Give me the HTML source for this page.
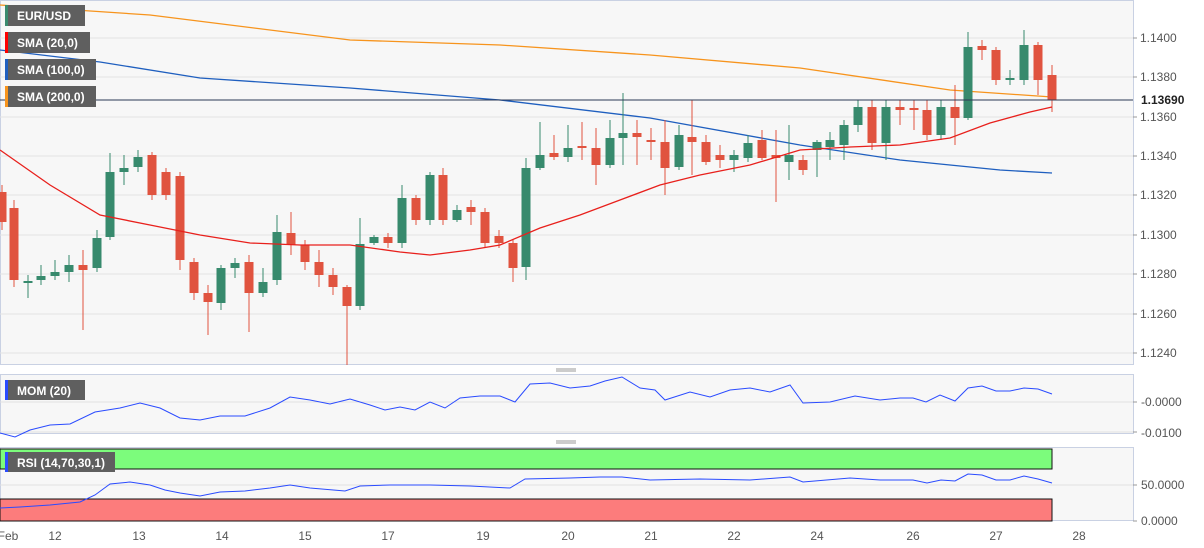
<!DOCTYPE html>
<html><head><meta charset="utf-8"><style>
body{margin:0;background:#fff;}
svg{display:block;font-family:"Liberation Sans",sans-serif;}
</style></head><body>
<svg width="1204" height="548" viewBox="0 0 1204 548" xmlns="http://www.w3.org/2000/svg">
<rect x="0" y="0" width="1204" height="548" fill="#fff"/>
<!-- main panel -->
<rect x="0.5" y="0.5" width="1133" height="364" fill="#f7f7f7" stroke="#c9d1e3"/>
<g stroke="#e3e3e3" stroke-width="1">
<line x1="0" x2="1133" y1="38" y2="38"/><line x1="0" x2="1133" y1="77" y2="77"/><line x1="0" x2="1133" y1="117" y2="117"/><line x1="0" x2="1133" y1="156" y2="156"/><line x1="0" x2="1133" y1="195" y2="195"/><line x1="0" x2="1133" y1="235" y2="235"/><line x1="0" x2="1133" y1="274" y2="274"/><line x1="0" x2="1133" y1="314" y2="314"/><line x1="0" x2="1133" y1="353" y2="353"/>
</g>
<g font-size="12" fill="#555">
<text x="1140" y="42">1.1400</text><text x="1140" y="81">1.1380</text><text x="1140" y="121">1.1360</text><text x="1140" y="160">1.1340</text><text x="1140" y="199">1.1320</text><text x="1140" y="239">1.1300</text><text x="1140" y="278">1.1280</text><text x="1140" y="318">1.1260</text><text x="1140" y="357">1.1240</text>
</g>
<g stroke="#999"><line x1="1133" x2="1137" y1="38" y2="38"/><line x1="1133" x2="1137" y1="77" y2="77"/><line x1="1133" x2="1137" y1="117" y2="117"/><line x1="1133" x2="1137" y1="156" y2="156"/><line x1="1133" x2="1137" y1="195" y2="195"/><line x1="1133" x2="1137" y1="235" y2="235"/><line x1="1133" x2="1137" y1="274" y2="274"/><line x1="1133" x2="1137" y1="314" y2="314"/><line x1="1133" x2="1137" y1="353" y2="353"/></g>
<!-- SMA lines -->
<polyline fill="none" stroke="#f7941d" stroke-width="1.3" points="0,5 150,15 350,40 500,45 650,55 800,68 950,90 1052,97"/>
<polyline fill="none" stroke="#1f5fbf" stroke-width="1.3" points="0,50 100,62 200,78 350,88 500,100 650,118 800,145 900,160 1000,170 1052,173"/>
<g id="candles"></g>
<polyline fill="none" stroke="#e8201c" stroke-width="1.3" points="0,150 50,185 100,215 150,225 200,235 250,243 300,245 350,245 400,252 430,255 470,250 500,245 540,228 580,215 620,200 660,185 700,175 750,165 800,150 850,147 900,145 950,138 990,123 1030,112 1052,107"/>
<line x1="0" x2="1133" y1="100" y2="100" stroke="#2b3a55" stroke-width="1"/>
<rect x="1136" y="92" width="60" height="16" fill="#fff"/>
<text x="1141" y="104" font-size="12" fill="#222" font-weight="bold">1.13690</text>
<!-- legend -->
<g font-size="12" fill="#fff" font-weight="bold">
<rect x="5" y="5" width="80" height="21" fill="#5f5f5f"/><rect x="5" y="5" width="3" height="21" fill="#3a8a6e"/><text x="17" y="20">EUR/USD</text>
<rect x="5" y="32" width="85" height="21" fill="#5f5f5f"/><rect x="5" y="32" width="3" height="21" fill="#f00"/><text x="17" y="47">SMA (20,0)</text>
<rect x="5" y="59" width="91" height="21" fill="#5f5f5f"/><rect x="5" y="59" width="3" height="21" fill="#1f5fbf"/><text x="17" y="74">SMA (100,0)</text>
<rect x="5" y="86" width="91" height="21" fill="#5f5f5f"/><rect x="5" y="86" width="3" height="21" fill="#f7941d"/><text x="17" y="101">SMA (200,0)</text>
</g>
<!-- separators -->
<g stroke="#999"><line x1="556" x2="576" y1="369" y2="369"/><line x1="556" x2="576" y1="371" y2="371"/><line x1="556" x2="576" y1="441" y2="441"/><line x1="556" x2="576" y1="443" y2="443"/></g>
<!-- MOM panel -->
<rect x="0.5" y="374.5" width="1133" height="59" fill="#f7f7f7" stroke="#c9d1e3"/>
<line x1="0" x2="1133" y1="402" y2="402" stroke="#e0e0e0"/>
<line x1="0" x2="1133" y1="432" y2="432" stroke="#e0e0e0"/>
<polyline fill="none" stroke="#2a4bff" stroke-width="1" points="0,433 15,437 30,430 50,425 70,424 95,412 120,408 140,403 160,408 180,418 200,420 220,416 245,416 270,408 290,397 310,400 330,404 350,399 370,405 385,410 400,407 415,410 430,402 445,408 460,398 480,396 500,396 515,402 530,384 550,383 570,388 590,386 605,381 622,377 640,388 655,390 665,400 690,392 710,397 730,390 750,388 770,392 790,385 803,403 830,402 855,396 880,400 900,398 913,398 926,402 940,395 955,401 968,388 982,386 996,391 1010,391 1024,388 1038,389 1052,394"/>
<rect x="5" y="380" width="80" height="20" fill="#5f5f5f"/><rect x="5" y="380" width="3" height="20" fill="#2a4bff"/>
<text x="17" y="395" font-size="12" fill="#fff" font-weight="bold">MOM (20)</text>
<g font-size="12" fill="#555"><text x="1141" y="406">-0.0000</text><text x="1141" y="437">-0.0100</text></g>
<g stroke="#999"><line x1="1133" x2="1137" y1="402" y2="402"/><line x1="1133" x2="1137" y1="432" y2="432"/></g>
<!-- RSI panel -->
<rect x="0.5" y="447.5" width="1133" height="73" fill="#f7f7f7" stroke="#c9d1e3"/>
<rect x="0" y="449" width="1052" height="20" fill="#7cfc7c" stroke="#111" stroke-width="1"/>
<rect x="0" y="499" width="1052" height="22" fill="#fc7c7c" stroke="#111" stroke-width="1"/>
<line x1="0" x2="1133" y1="485" y2="485" stroke="#e0e0e0"/>
<polyline fill="none" stroke="#2a4bff" stroke-width="1" points="0,508 20,507 50,505 80,502 95,495 110,484 130,482 150,485 165,490 180,493 200,496 220,492 245,491 270,488 290,485 310,488 345,491 360,486 390,485 430,485 470,486 510,488 525,479 570,478 600,477 622,477 650,480 700,479 750,480 790,477 803,482 850,478 880,480 913,480 927,483 941,480 955,481 968,474 982,475 996,480 1010,480 1024,476 1038,479 1052,483"/>
<rect x="5" y="452" width="110" height="20" fill="#5f5f5f"/><rect x="5" y="452" width="3" height="20" fill="#2a4bff"/>
<text x="17" y="467" font-size="12" fill="#fff" font-weight="bold">RSI (14,70,30,1)</text>
<g font-size="12" fill="#555"><text x="1141" y="489">50.0000</text><text x="1141" y="525">0.0000</text></g>
<g stroke="#999"><line x1="1133" x2="1137" y1="485" y2="485"/><line x1="1133" x2="1137" y1="521" y2="521"/></g>
<!-- x axis -->
<g font-size="12" fill="#555" text-anchor="middle">
<text x="8" y="540">Feb</text><text x="55" y="540">12</text><text x="139" y="540">13</text><text x="222" y="540">14</text><text x="305" y="540">15</text><text x="388" y="540">17</text><text x="483" y="540">19</text><text x="568" y="540">20</text><text x="651" y="540">21</text><text x="734" y="540">22</text><text x="817" y="540">24</text><text x="913" y="540">26</text><text x="996" y="540">27</text><text x="1079" y="540">28</text>
</g>
</svg>
<script>
var c=[[2,192,222,185,230],[14,208,280,200,287],[28,283,281,275,298],[41,280,276,265,285],[55,276,272,260,280],[69,272,265,255,282],[83,265,270,250,330],[97,268,238,230,272],[110,237,172,153,240],[124,172,168,155,185],[138,167,157,150,172],[152,155,195,152,200],[166,172,195,168,200],[180,176,260,172,270],[194,262,293,258,300],[208,293,302,285,335],[221,303,268,265,310],[235,268,263,258,278],[249,262,293,255,332],[263,293,282,268,297],[277,280,232,215,285],[291,233,245,212,255],[305,245,262,240,270],[319,262,275,250,287],[333,275,287,268,295],[347,287,306,285,365],[360,306,244,218,310],[374,243,237,235,245],[388,237,243,233,248],[402,243,198,185,248],[416,198,220,195,225],[430,220,175,172,225],[443,175,220,168,225],[457,220,210,205,222],[471,207,212,200,225],[485,212,243,208,248],[499,236,243,230,248],[513,243,268,240,282],[526,267,168,158,280],[540,168,155,122,170],[554,153,157,135,160],[568,157,148,125,162],[582,146,148,122,160],[596,148,165,128,185],[610,165,138,120,168],[623,138,133,93,165],[637,133,137,120,165],[651,140,142,128,160],[665,142,168,120,195],[679,167,135,125,170],[692,137,142,100,175],[706,142,162,135,165],[720,155,160,145,168],[734,160,155,150,172],[748,158,143,135,162],[762,140,158,130,160],[776,155,158,130,202],[789,162,155,125,180],[803,160,170,155,175],[817,150,142,140,177],[830,147,140,132,160],[844,145,125,120,160],[858,125,107,100,132],[872,107,143,100,150],[886,143,107,100,160],[900,107,110,100,125],[914,108,110,100,130],[927,110,135,100,140],[941,135,107,100,140],[955,107,118,85,145],[968,118,47,32,120],[982,46,50,40,60],[996,50,80,47,85],[1010,80,78,70,85],[1024,80,45,30,85],[1038,45,80,42,95],[1052,75,100,65,112]];
var g=document.getElementById('candles'),s='';
c.forEach(function(d){var col=d[2]<d[1]?'#378a6d':'#e0533f';var t=Math.min(d[1],d[2]),h=Math.max(2,Math.abs(d[2]-d[1]));
s+='<line x1="'+d[0]+'" x2="'+d[0]+'" y1="'+d[3]+'" y2="'+d[4]+'" stroke="'+col+'"/>';
s+='<rect x="'+(d[0]-4.5)+'" y="'+t+'" width="9" height="'+h+'" fill="'+col+'"/>';});
g.innerHTML=s;
</script>
</body></html>
